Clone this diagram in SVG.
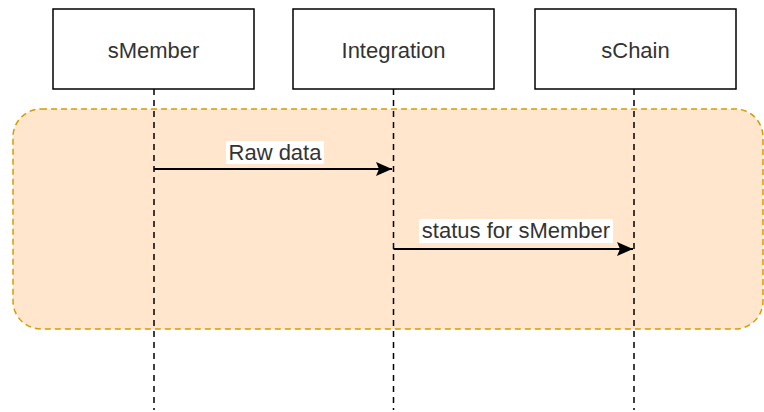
<svg xmlns="http://www.w3.org/2000/svg" width="764" height="412" viewBox="0 0 764 412">
<style>
.box{fill:#fff;stroke:#000;stroke-width:1.5}
.life{stroke:#000;stroke-width:1.5;stroke-dasharray:6 5;fill:none}
.lbl{font-family:"Liberation Sans",Arial,sans-serif;font-size:22px;fill:#333;text-anchor:middle}
.msg{stroke:#000;stroke-width:2;fill:none}
.lblbg{fill:#fff}
</style>
<defs>
<marker id="ah" markerUnits="userSpaceOnUse" markerWidth="17" markerHeight="16" refX="16" refY="8" orient="auto">
<path d="M0,1 L16,8 L0,15 L3,8 Z" fill="#000"/>
</marker>
</defs>
<rect id="frame" x="13" y="109" width="750" height="220" rx="28" ry="28" fill="#ffe6cc" stroke="#d79b00" stroke-width="1.5" stroke-dasharray="6 4"/>
<g id="connectors">
<line class="life" x1="154" y1="89" x2="154" y2="410"/>
<line class="life" x1="393.5" y1="89" x2="393.5" y2="410"/>
<line class="life" x1="634" y1="89" x2="634" y2="410"/>
<line class="msg" x1="154" y1="169" x2="392" y2="169" marker-end="url(#ah)"/>
<rect class="lblbg" x="226" y="141" width="98" height="23"/>
<text class="lbl" x="275" y="160">Raw data</text>
<line class="msg" x1="393.5" y1="249" x2="633" y2="249" marker-end="url(#ah)"/>
<rect class="lblbg" x="419" y="219" width="194" height="24"/>
<text class="lbl" x="516" y="238">status for sMember</text>
</g>
<g id="sMember">
<rect class="box" x="53" y="9" width="201" height="80"/>
<text class="lbl" x="153.5" y="58">sMember</text>
</g>
<g id="Integration">
<rect class="box" x="293" y="9" width="201" height="80"/>
<text class="lbl" x="393.5" y="58">Integration</text>
</g>
<g id="sChain">
<rect class="box" x="535" y="9" width="201" height="80"/>
<text class="lbl" x="635.5" y="58">sChain</text>
</g>
</svg>
